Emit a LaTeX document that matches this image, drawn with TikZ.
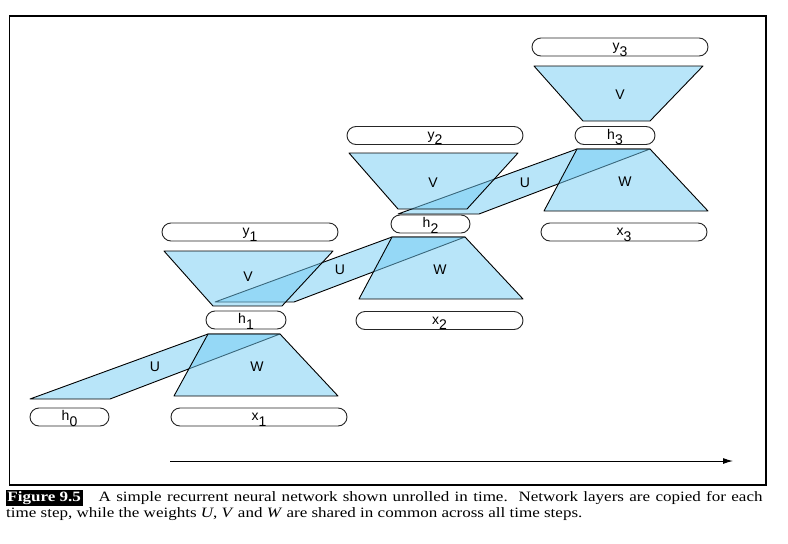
\documentclass[tikz,border=0pt]{standalone}
\usepackage{graphicx}
\usepackage{fontspec}
\setmainfont{Liberation Serif}
\newfontfamily\labfont{Liberation Sans}
\usetikzlibrary{shapes.misc,arrows.meta}
\definecolor{layerblue}{RGB}{115,205,245}
\newcommand\lowsub[1]{\raisebox{-5.5pt}{#1}}
\begin{document}
\begin{tikzpicture}[x=1pt,y=-1pt,
  box/.style={draw=black!85, line width=0.9pt, rounded rectangle, minimum height=18pt,
    inner sep=0pt, font=\labfont\fontsize{14}{14}\selectfont, text height=7pt, text depth=0pt},
  layer/.style={draw=black, line width=0.9pt, fill=layerblue, fill opacity=0.5, line join=round},
  lab/.style={font=\labfont\fontsize{14}{14}\selectfont, inner sep=0pt},
  capt/.style={font=\fontsize{14.3}{18}\selectfont, inner sep=0pt, anchor=base west},
]
\useasboundingbox (0,0) rectangle (788,544);
\fill[white] (0,0) rectangle (788,544);
\draw[line width=1.2pt] (9.5,16) rectangle (766,485);

% coordinates of the layer shapes
% step 1
\coordinate (V1a) at (164,251); \coordinate (V1b) at (333,251);
\coordinate (V1c) at (282,306); \coordinate (V1d) at (213,306);
\coordinate (W1a) at (208,334); \coordinate (W1b) at (280,334);
\coordinate (W1c) at (338,396); \coordinate (W1d) at (174,396);
% step 2
\coordinate (V2a) at (349,153); \coordinate (V2b) at (518,153);
\coordinate (V2c) at (467,209); \coordinate (V2d) at (398,209);
\coordinate (W2a) at (392,237); \coordinate (W2b) at (465,237);
\coordinate (W2c) at (523,299); \coordinate (W2d) at (359,299);
% step 3
\coordinate (V3a) at (534,66); \coordinate (V3b) at (703,66);
\coordinate (V3c) at (650,121); \coordinate (V3d) at (583,121);
\coordinate (W3a) at (577,149); \coordinate (W3b) at (650,149);
\coordinate (W3c) at (708,211); \coordinate (W3d) at (544,211);
% recurrent bases
\coordinate (U1a) at (30,399); \coordinate (U1b) at (110,399);
\coordinate (U2a) at (215,302); \coordinate (U2b) at (294,302);
\coordinate (U3a) at (398,214); \coordinate (U3b) at (479,214);

% U (recurrent) weights
\draw[layer] (U1a) -- (U1b) -- (W1b) -- (W1a) -- cycle;
\draw[layer] (U2a) -- (U2b) -- (W2b) -- (W2a) -- cycle;
\draw[layer] (U3a) -- (U3b) -- (W3b) -- (W3a) -- cycle;
% V and W weights
\draw[layer] (V1a) -- (V1b) -- (V1c) -- (V1d) -- cycle;
\draw[layer] (W1a) -- (W1b) -- (W1c) -- (W1d) -- cycle;
\draw[layer] (V2a) -- (V2b) -- (V2c) -- (V2d) -- cycle;
\draw[layer] (W2a) -- (W2b) -- (W2c) -- (W2d) -- cycle;
\draw[layer] (V3a) -- (V3b) -- (V3c) -- (V3d) -- cycle;
\draw[layer] (W3a) -- (W3b) -- (W3c) -- (W3d) -- cycle;

% layer boxes
\node[box, minimum width=79pt] (h0) at (69.5,417) {h\lowsub{0}};
\node[box, minimum width=176pt] (x1) at (259,417) {x\lowsub{1}};
\node[box, minimum width=80pt] (h1) at (246,320) {h\lowsub{1}};
\node[box, minimum width=176pt] (y1) at (250,232) {y\lowsub{1}};
\node[box, minimum width=167pt] (x2) at (439.5,320.5) {x\lowsub{2}};
\node[box, minimum width=79pt] (h2) at (430.5,224) {h\lowsub{2}};
\node[box, minimum width=176pt] (y2) at (435,135.5) {y\lowsub{2}};
\node[box, minimum width=166pt] (x3) at (624,232) {x\lowsub{3}};
\node[box, minimum width=80pt] (h3) at (615,135.5) {h\lowsub{3}};
\node[box, minimum width=176pt] (y3) at (620,47) {y\lowsub{3}};

% weight labels
\node[lab] (lU1) at (155,367) {U};
\node[lab] (lU2) at (340,270) {U};
\node[lab] (lU3) at (525,183) {U};
\node[lab] (lV1) at (248,277) {V};
\node[lab] (lV2) at (433,183) {V};
\node[lab] (lV3) at (620,95) {V};
\node[lab] (lW1) at (257,367) {W};
\node[lab] (lW2) at (440,270) {W};
\node[lab] (lW3) at (625,182) {W};

% time arrow
\coordinate (t0) at (170,461);
\coordinate (t1) at (733,461);
\draw[line width=1pt, -{Latex[length=10pt,width=6pt]}] (t0) -- (t1);

% caption
\node[capt] (cap1) at (5.5,501) {\scalebox{1.19}[1]{\makebox[636pt][s]{{\fboxsep=1.5pt\colorbox{black}{\textcolor{white}{\bfseries Figure 9.5}}}\hspace{9pt} A simple recurrent neural network shown unrolled in time.\ \ Network layers are copied for each}}};
\node[capt] (cap2) at (6,517) {\scalebox{1.19}[1]{time step, while the weights \textit{U}, \textit{V} and \textit{W} are shared in common across all time steps.}};
\end{tikzpicture}
\end{document}
